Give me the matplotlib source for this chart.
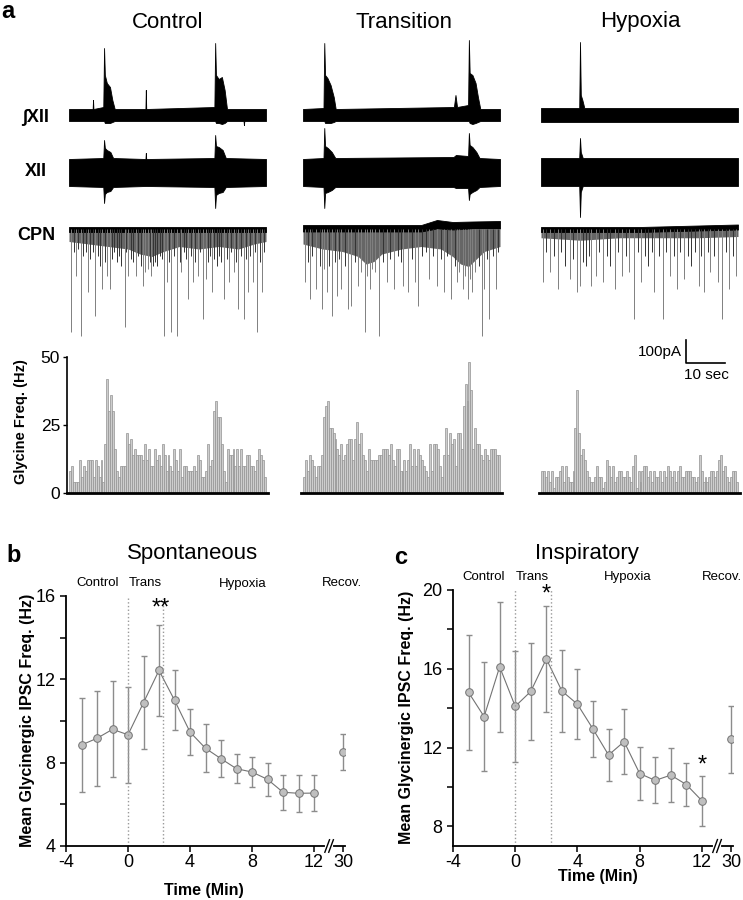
import numpy as np
import matplotlib.pyplot as plt
from matplotlib.transforms import blended_transform_factory

plt.rcParams['font.family'] = ['Liberation Sans', 'DejaVu Sans']

# ---------------------------------------------------------------- panel a data
conditions = ['Control', 'Transition', 'Hypoxia']

# glycine IPSC frequency, 0.5 s bins (Hz)
hist_control = [8, 10, 4, 4, 4, 12, 6, 10, 8, 12, 12, 12, 6, 12, 10, 6, 12, 4, 18, 42,
                30, 36, 30, 16, 8, 6, 10, 10, 10, 22, 18, 20, 14, 16, 14, 14, 14, 12, 18, 12,
                16, 10, 10, 16, 12, 14, 10, 18, 14, 8, 14, 10, 8, 16, 12, 8, 16, 6, 10, 10,
                8, 8, 8, 10, 8, 14, 12, 6, 6, 8, 18, 10, 12, 30, 34, 28, 28, 18, 8, 4,
                16, 14, 14, 16, 10, 16, 10, 16, 10, 10, 14, 14, 10, 10, 8, 12, 16, 14, 12, 6]
hist_transition = [6, 12, 8, 14, 12, 10, 6, 10, 10, 14, 28, 32, 34, 24, 24, 22, 20, 16, 14, 18,
                   12, 14, 18, 20, 20, 12, 20, 26, 18, 22, 14, 12, 8, 16, 12, 12, 12, 12, 14, 14,
                   16, 16, 16, 14, 18, 12, 10, 16, 16, 8, 8, 12, 8, 12, 18, 10, 16, 10, 16, 14,
                   12, 10, 8, 6, 18, 8, 18, 18, 16, 10, 6, 14, 24, 14, 22, 18, 20, 10, 22, 22,
                   16, 32, 40, 34, 48, 38, 16, 24, 18, 18, 14, 12, 16, 14, 12, 16, 16, 16, 14, 14]
hist_hypoxia = [8, 8, 6, 8, 4, 8, 2, 6, 6, 8, 10, 4, 10, 6, 4, 4, 8, 24, 38, 22,
                14, 16, 12, 8, 6, 4, 4, 6, 10, 6, 6, 2, 4, 12, 10, 6, 10, 4, 6, 8,
                8, 6, 6, 8, 6, 4, 10, 14, 2, 8, 4, 8, 10, 10, 6, 8, 4, 8, 6, 6,
                8, 4, 8, 6, 10, 8, 6, 8, 4, 8, 10, 6, 6, 8, 8, 8, 6, 6, 4, 6,
                14, 8, 4, 6, 4, 6, 8, 8, 6, 8, 12, 14, 8, 10, 6, 4, 6, 8, 8, 4]

# integrated XII envelope (a.u.)
ixii_t_control = [0, 6.0, 6.1, 6.2, 8.7, 8.9, 9.1, 9.6, 10.4, 11.0, 11.6, 19.4, 19.5, 19.6,
                  36.9, 37.1, 37.3, 38.0, 38.8, 39.5, 40.1, 44.3, 44.4, 44.5, 50]
ixii_hi_control = [6, 6, 15, 6, 8, 67, 40, 32, 28, 15, 6, 6, 25, 6, 8, 72, 40, 36, 38, 25, 6, 6, 6, 6, 6]
ixii_lo_control = [-6, -6, -6, -6, -6, -6, -8, -8, -8, -7, -6, -6, -6, -6, -6, -6, -8, -8, -9, -8,
                   -6, -6, -10, -6, -6]
ixii_t_transition = [0, 5.2, 5.4, 5.6, 6.2, 7.0, 7.8, 8.3, 38.3, 38.7, 39.1, 41.9, 42.1, 42.3,
                     43.0, 43.8, 44.4, 45.0, 50]
ixii_hi_transition = [6, 7, 72, 40, 37, 30, 18, 6, 8, 20, 8, 10, 75, 42, 40, 32, 18, 6, 6]
ixii_lo_transition = [-6, -6, -6, -8, -8, -8, -7, -6, -6, -6, -6, -6, -6, -8, -9, -8, -7, -6, -6]
ixii_t_hypoxia = [0, 9.7, 9.9, 10.1, 10.5, 11.0, 50]
ixii_hi_hypoxia = [7, 7, 73, 20, 15, 7, 7]
ixii_lo_hypoxia = [-7, -7, -7, -7, -7, -7, -7]

# raw XII envelope (a.u.)
xii_t_control = [0, 8.7, 8.9, 9.1, 9.6, 10.5, 11.2, 19.4, 19.5, 19.6, 36.9, 37.1, 37.3, 38.0, 39.0, 39.8, 50]
xii_hi_control = [13, 14, 32, 24, 22, 20, 14, 13, 19, 13, 14, 37, 26, 25, 22, 14, 13]
xii_lo_control = [-14, -15, -31, -22, -20, -19, -15, -14, -14, -14, -15, -36, -23, -21, -20, -15, -14]
xii_t_transition = [0, 5.2, 5.4, 5.6, 6.3, 7.3, 8.2, 38.2, 38.8, 41.9, 42.1, 42.3, 43.0, 44.0, 44.8, 50]
xii_hi_transition = [13, 14, 44, 26, 24, 20, 14, 15, 17, 16, 39, 27, 25, 20, 14, 13]
xii_lo_transition = [-14, -15, -36, -21, -20, -18, -15, -15, -16, -16, -28, -22, -20, -18, -15, -14]
xii_t_hypoxia = [0, 9.7, 9.9, 10.1, 10.6, 50]
xii_hi_hypoxia = [14, 14, 34, 20, 14, 14]
xii_lo_hypoxia = [-14, -14, -45, -20, -14, -14]

# CPN holding-current band and dense-event region (pA)
cpn_band_t_control = [0, 25, 50]
cpn_band_hi_control = [10, 10, 10]
cpn_band_lo_control = [-12, -12, -12]
cpn_band_t_transition = [0, 30, 34, 38, 43, 50]
cpn_band_hi_transition = [16, 16, 36, 28, 30, 32]
cpn_band_lo_transition = [-10, -10, 2, -2, 2, 2]
cpn_band_t_hypoxia = [0, 25, 40, 50]
cpn_band_hi_hypoxia = [8, 8, 14, 18]
cpn_band_lo_hypoxia = [-12, -12, -6, -2]

cloud_t_control = [0, 5, 10, 15, 18, 21, 24, 28, 33, 38, 43, 47, 50]
cloud_control = [-50, -60, -70, -80, -100, -110, -90, -70, -80, -70, -80, -60, -50]
cloud_t_transition = [0, 5, 10, 14, 16, 18, 20, 25, 30, 35, 38, 40, 42, 44, 46, 50]
cloud_transition = [-60, -80, -90, -110, -140, -130, -100, -80, -70, -80, -110, -140, -150, -120, -90, -70]
cloud_t_hypoxia = [0, 10, 20, 30, 40, 50]
cloud_hypoxia = [-35, -45, -35, -35, -35, -30]

# individual IPSCs (time s, amplitude pA)
spike_t_control = [0.6, 1.8, 3.0, 4.8, 6.7, 7.9, 8.5, 9.7, 10.3, 12.1, 14.2, 15.1, 16.9, 18.8, 19.4,
                   20.9, 22.4, 24.2, 24.8, 26.0, 27.5, 28.5, 30.3, 31.5, 32.7, 33.9, 34.7, 36.3,
                   37.5, 39.3, 40.6, 41.8, 43.0, 44.4, 45.4, 46.6, 47.8, 49.0,
                   1.2, 2.4, 3.6, 4.2, 5.4, 6.1, 7.3, 9.1, 10.9, 11.5, 12.7, 13.3, 14.5, 15.7, 16.3,
                   17.6, 18.2, 20.0, 20.6, 21.4, 21.8, 23.0, 23.6, 25.4, 26.6, 28.1, 29.1, 29.7,
                   30.9, 32.1, 33.3, 35.4, 35.7, 36.9, 38.1, 38.7, 40.0, 41.2, 42.4, 43.6, 44.8,
                   46.0, 47.2, 48.4, 49.6]
spike_a_control = [-413, -187, -427, -253, -347, -147, -240, -187, -240, -133, -393, -187, -187, -227,
                   -173, -187, -147, -427, -213, -413, -427, -173, -280, -213, -187, -360, -200,
                   -253, -147, -280, -213, -173, -320, -360, -253, -213, -413, -253,
                   -93, -80, -107, -93, -120, -93, -107, -133, -120, -93, -107, -147, -93, -120,
                   -133, -107, -147, -160, -133, -147, -133, -107, -120, -133, -107, -133, -93,
                   -120, -107, -133, -93, -133, -107, -120, -107, -133, -120, -93, -133, -107,
                   -120, -107, -93, -133, -93]
spike_t_transition = [0.6, 1.8, 3.4, 4.8, 6.1, 7.3, 8.7, 9.7, 11.5, 12.2, 13.9, 15.7, 16.9, 19.4,
                      21.2, 23.0, 25.4, 26.6, 28.5, 29.1, 32.1, 33.9, 35.7, 37.5, 39.0, 40.6,
                      41.8, 43.0, 45.4, 46.0, 47.2, 49.0,
                      1.2, 2.4, 4.2, 5.4, 6.7, 8.2, 9.1, 10.6, 13.1, 14.8, 16.3, 17.6, 18.4, 20.3,
                      22.0, 24.0, 24.8, 27.6, 30.3, 31.2, 33.0, 34.9, 36.6, 38.5, 39.7, 41.2, 42.4,
                      43.6, 44.6, 46.6, 48.2, 49.6]
spike_a_transition = [-213, -280, -240, -320, -253, -347, -267, -240, -320, -307, -227, -413, -240,
                      -427, -213, -240, -227, -253, -213, -307, -200, -227, -253, -280, -213, -240,
                      -280, -253, -427, -240, -360, -240,
                      -133, -107, -147, -160, -147, -133, -120, -147, -133, -173, -187, -160, -173,
                      -133, -120, -107, -133, -120, -107, -93, -107, -120, -107, -147, -173, -187,
                      -200, -173, -147, -120, -107, -93]
spike_t_hypoxia = [0.6, 2.4, 4.2, 6.1, 7.3, 9.1, 9.9, 11.5, 12.7, 13.9, 15.7, 17.6, 18.8, 20.6, 22.4,
                   23.6, 25.4, 27.2, 28.8, 30.9, 32.7, 34.5, 36.3, 38.1, 40.0, 41.4, 43.0, 44.8,
                   46.0, 47.8, 49.4,
                   1.2, 3.4, 5.1, 8.2, 10.7, 12.1, 14.8, 16.7, 19.6, 21.5, 24.5, 26.4, 28.1, 30.0,
                   31.7, 33.7, 35.4, 37.3, 39.0, 40.7, 42.4, 43.9, 47.0, 48.7]
spike_a_hypoxia = [-213, -173, -240, -147, -200, -253, -227, -147, -227, -187, -213, -147, -240, -187,
                   -173, -360, -213, -147, -253, -360, -187, -240, -200, -147, -227, -253, -173,
                   -213, -360, -240, -187,
                   -93, -107, -93, -120, -133, -107, -93, -107, -93, -107, -93, -107, -93, -107,
                   -93, -107, -93, -107, -93, -107, -93, -107, -93, -107]

# ---------------------------------------------------------------- panels b, c data
time_min = [-3, -2, -1, 0, 1, 2, 3, 4, 5, 6, 7, 8, 9, 10, 11, 12, 30]
spont_mean = [8.85, 9.17, 9.6, 9.34, 10.88, 12.43, 11.0, 9.47, 8.69, 8.19, 7.71, 7.55, 7.2, 6.58, 6.53, 6.54, 8.51]
spont_sem = [2.24, 2.28, 2.3, 2.3, 2.24, 2.2, 1.45, 1.12, 1.15, 0.9, 0.7, 0.72, 0.78, 0.85, 0.88, 0.85, 0.88]
insp_mean = [14.8, 13.57, 16.1, 14.09, 14.85, 16.5, 14.87, 14.2, 12.94, 11.62, 12.3, 10.68, 10.33, 10.6, 10.12, 9.3, 12.42]
insp_sem = [2.9, 2.76, 3.3, 2.8, 2.47, 2.7, 2.1, 1.78, 1.4, 1.33, 1.65, 1.34, 1.17, 1.37, 1.09, 1.26, 1.7]
phase_labels = ['Control', 'Trans', 'Hypoxia', 'Recov.']

# ---------------------------------------------------------------- layout helpers
W, H = 743, 900
fig = plt.figure(figsize=(W / 100, H / 100), dpi=100)


def box(left, top, right, bottom):
    return [left / W, 1 - bottom / H, (right - left) / W, (bottom - top) / H]


def ftext(x, y, s, **kw):
    fig.text(x / W, 1 - y / H, s, **kw)


hist = {'Control': hist_control, 'Transition': hist_transition, 'Hypoxia': hist_hypoxia}
ixii = {'Control': (ixii_t_control, ixii_hi_control, ixii_lo_control),
        'Transition': (ixii_t_transition, ixii_hi_transition, ixii_lo_transition),
        'Hypoxia': (ixii_t_hypoxia, ixii_hi_hypoxia, ixii_lo_hypoxia)}
xii = {'Control': (xii_t_control, xii_hi_control, xii_lo_control),
       'Transition': (xii_t_transition, xii_hi_transition, xii_lo_transition),
       'Hypoxia': (xii_t_hypoxia, xii_hi_hypoxia, xii_lo_hypoxia)}
band = {'Control': (cpn_band_t_control, cpn_band_hi_control, cpn_band_lo_control),
        'Transition': (cpn_band_t_transition, cpn_band_hi_transition, cpn_band_lo_transition),
        'Hypoxia': (cpn_band_t_hypoxia, cpn_band_hi_hypoxia, cpn_band_lo_hypoxia)}
cloud = {'Control': (cloud_t_control, cloud_control),
         'Transition': (cloud_t_transition, cloud_transition),
         'Hypoxia': (cloud_t_hypoxia, cloud_hypoxia)}
spikes = {'Control': (spike_t_control, spike_a_control),
          'Transition': (spike_t_transition, spike_a_transition),
          'Hypoxia': (spike_t_hypoxia, spike_a_hypoxia)}

col_start = [69, 303, 541]   # pixel where t = 0
px_per_s = 3.94
title_x = [168, 404, 640]

# ---------------------------------------------------------------- panel a
ftext(1, 0, 'a', fontsize=17, fontweight='bold', va='top')
for i, cond in enumerate(conditions):
    x0 = col_start[i]
    x1 = x0 + 50 * px_per_s
    ftext(title_x[i], 22, cond, fontsize=16, ha='center', va='center')

    # integrated XII
    ax = fig.add_axes(box(x0, 35, x1, 135))
    t, hi, lo = ixii[cond]
    ax.fill_between(t, lo, hi, color='black', lw=0.6)
    ax.set_xlim(0, 50)
    ax.set_ylim(-20, 80)
    ax.axis('off')

    # raw XII
    ax = fig.add_axes(box(x0, 125, x1, 225))
    t, hi, lo = xii[cond]
    ax.fill_between(t, lo, hi, color='black', lw=0.6)
    ax.set_xlim(0, 50)
    ax.set_ylim(-53, 47)
    ax.axis('off')

    # CPN voltage clamp
    ax = fig.add_axes(box(x0, 219, x1, 380))
    t, c = cloud[cond]
    ax.fill_between(t, 0, c, color='0.4', lw=0)
    st, sa = np.array(spikes[cond][0]), np.array(spikes[cond][1])
    deep = sa < -150
    ax.vlines(st[deep], 0, sa[deep], color='0.5', lw=0.7)
    ax.vlines(st[~deep], 0, sa[~deep], color='0.2', lw=0.7)
    t, hi, lo = band[cond]
    ax.fill_between(t, lo, hi, color='black', lw=0.6)
    ax.set_xlim(0, 50)
    ax.set_ylim(-604, 40)
    ax.axis('off')
    if cond == 'Hypoxia':
        sx = 36.8
        ax.plot([sx, sx, sx + 10], [-444, -536, -536], color='black', lw=1.2, clip_on=False)
        ax.text(sx - 1.0, -492, '100pA', fontsize=11, ha='right', va='center')
        ax.text(sx + 5.2, -584, '10 sec', fontsize=11, ha='center', va='center')

    # histogram
    ax = fig.add_axes(box(x0 - 0.5 * px_per_s, 357, x1 + 0.5 * px_per_s, 493))
    ax.patch.set_alpha(0)
    bins = np.arange(len(hist[cond])) * 0.5
    ax.bar(bins, hist[cond], width=0.5, align='edge', color='#cdcdcd', edgecolor='#939393', lw=0.5)
    ax.set_xlim(-0.5, 50.5)
    ax.set_ylim(0, 50)
    for s in ['top', 'right']:
        ax.spines[s].set_visible(False)
    ax.spines['bottom'].set_linewidth(2)
    ax.set_xticks([])
    if i == 0:
        ax.set_yticks([0, 25, 50])
        ax.tick_params(axis='y', labelsize=12.5, length=3, width=1, pad=2)
        ax.spines['left'].set_linewidth(1.2)
    else:
        ax.spines['left'].set_visible(False)
        ax.set_yticks([])

ftext(36, 117, '\u222bXII', fontsize=13, fontweight='bold', ha='center', va='center')
ftext(36, 172, 'XII', fontsize=13, fontweight='bold', ha='center', va='center')
ftext(36, 235, 'CPN', fontsize=13, fontweight='bold', ha='center', va='center')
ftext(21, 422, 'Glycine Freq. (Hz)', fontsize=10.5, fontweight='bold', rotation=90,
      ha='center', va='center')


# ---------------------------------------------------------------- panels b, c
def time_panel(rect, mean, sem, ylim, yticks, minor, letter, letter_xy, title, title_xy,
               ylab_xy, xlab_xy, trans_x, label_x, stars):
    ax = fig.add_axes(box(*rect))
    x = np.array(time_min, dtype=float)
    x[x > 12] = 13.9
    m = np.array(mean)
    ax.errorbar(x, m, yerr=sem, fmt='none', ecolor='0.55', elinewidth=1, capsize=2.5, capthick=1)
    ax.plot(x[:-1], m[:-1], color='0.45', lw=0.8)
    ax.plot(x, m, 'o', ms=5.5, mfc='0.75', mec='0.45', mew=0.7)
    ax.axvline(0, color='0.6', ls=':', lw=1)
    ax.axvline(trans_x, color='0.6', ls=':', lw=1)
    ax.set_xlim(-4, 14)
    ax.set_ylim(*ylim)
    ax.set_xticks([-4, 0, 4, 8, 12, 13.9])
    ax.set_xticklabels(['-4', '0', '4', '8', '12', '30'])
    ax.set_yticks(yticks)
    ax.set_yticks(minor, minor=True)
    ax.tick_params(labelsize=13, length=4, width=1.1)
    ax.tick_params(axis='x', pad=1.5)
    ax.tick_params(which='minor', length=4, width=1.1)
    for s in ['top', 'right']:
        ax.spines[s].set_visible(False)
    for s in ['left', 'bottom']:
        ax.spines[s].set_linewidth(1.3)
    tr = blended_transform_factory(ax.transData, ax.transAxes)
    ax.plot([12.85, 13.1], [0, 0], color='white', lw=3, transform=tr, clip_on=False, zorder=5)
    for bx in [12.7, 12.95]:
        ax.plot([bx, bx + 0.3], [-0.025, 0.025], color='black', lw=1, transform=tr,
                clip_on=False, zorder=6)
    for lx, lab in zip(label_x, phase_labels):
        ax.text(lx, 1.05, lab, fontsize=9.5, ha='center', va='center', transform=tr)
    for sx, sy, s in stars:
        ax.text(sx, sy, s, fontsize=17, ha='center', va='center')
    ftext(*letter_xy, letter, fontsize=17, fontweight='bold', va='center')
    ftext(*title_xy, title, fontsize=16, ha='center', va='center')
    ftext(*ylab_xy, 'Mean Glycinergic IPSC Freq. (Hz)', fontsize=11.5, fontweight='bold',
          rotation=90, ha='center', va='center')
    ftext(*xlab_xy, 'Time (Min)', fontsize=11.5, fontweight='bold', ha='center', va='center')
    return ax


time_panel((66, 596, 345, 846), spont_mean, spont_sem, (4, 16), [4, 8, 12, 16], [6, 10, 14],
           'b', (6, 556), 'Spontaneous', (193, 553), (28, 720), (204, 890), 2.25,
           [-1.95, 1.1, 7.4, 13.8], [(2.1, 15.4, '**')])
time_panel((453, 590, 733, 846), insp_mean, insp_sem, (7, 20), [8, 12, 16, 20], [10, 14, 18],
           'c', (394, 558), 'Inspiratory', (587, 553), (407, 717), (598, 877), 2.3,
           [-2.05, 1.1, 7.25, 13.3], [(2.0, 19.75, '*'), (12.0, 11.1, '*')])

fig.savefig('out.png', dpi=100)
